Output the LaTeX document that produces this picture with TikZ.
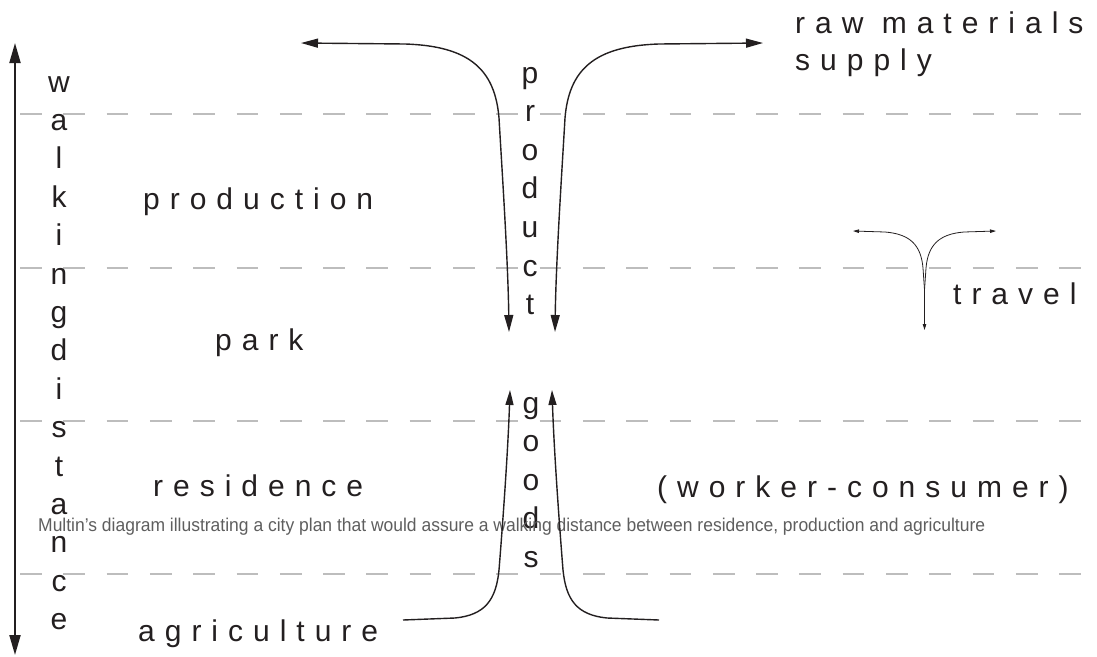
\documentclass[tikz,border=0pt]{standalone}
\usepackage{fontspec}
\usepackage{graphicx}
\setmainfont{Liberation Sans}
\newfontfamily\labfont[LetterSpace=33.3]{Liberation Sans}
\newfontfamily\capfont{Liberation Sans}
\usetikzlibrary{arrows.meta}
\definecolor{labcol}{HTML}{231F20}
\definecolor{guidecol}{HTML}{BDBDBD}
\definecolor{capcol}{HTML}{5E5E5E}
\begin{document}
\begin{tikzpicture}[x=1pt,y=-1pt,
  lab/.style={anchor=base west, inner sep=0pt, text=labcol, font=\labfont\fontsize{30}{32}\selectfont},
  vlet/.style={anchor=base, inner sep=0pt, text=labcol, font=\fontsize{30}{32}\selectfont},
  guide/.style={draw=guidecol, line width=1.2pt, dash pattern=on 21.7pt off 21.6pt},
  flow/.style={draw=labcol, line width=1.4pt},
  thinflow/.style={draw=labcol, line width=0.8pt},
  bigtip/.tip={Triangle[length=17pt,width=9pt]},
  midtip/.tip={Triangle[length=15pt,width=8pt]},
  walktip/.tip={Triangle[length=20pt,width=11pt]},
  smalltip/.tip={Triangle[length=6pt,width=3.5pt]}]
\useasboundingbox (0,0) rectangle (1097,656);

% guide lines
\foreach \yy [count=\k] in {114,268,421,574} {
  \coordinate (gl\k) at (20,\yy);
  \coordinate (gr\k) at (1097,\yy);
  \draw[guide] (gl\k) -- (gr\k);
}

% walking distance arrow
\coordinate (wtop) at (15,43);
\coordinate (wbot) at (15,655);
\draw[draw=labcol, line width=2pt, walktip-walktip] (wtop) -- (wbot);

\foreach \c [count=\i] in {w,a,l,k,i,n,g,d,i,s,t,a,n,c,e}
  \node[vlet] (wd\i) at (59,{92+38.4*(\i-1)}) {\c};

% product letters
\foreach \c [count=\i] in {p,r,o,d,u,c,t}
  \node[vlet] (pr\i) at (530,{83+38.6*(\i-1)}) {\c};

% goods letters
\foreach \c [count=\i] in {g,o,o,d,s}
  \node[vlet] (gd\i) at (531,{413+38.5*(\i-1)}) {\c};

% labels
\node[lab] (raw) at (795,33) {raw materials};
\node[lab] (sup) at (795,70) {supply};
\node[lab] (prod) at (143,209) {production};
\node[lab] (park) at (215,350) {park};
\node[lab] (trav) at (953,304) {travel};
\node[lab] (res) at (153,496) {residence};
\node[lab] (wc) at (657,497) {(worker-consumer)};
\node[lab] (agr) at (138,641) {agriculture};

% caption
\node[anchor=base west, inner sep=0pt, text=capcol, font=\capfont\fontsize{18.5}{20}\selectfont] (cap) at (38,531)
  {\resizebox{947pt}{\height}{Multin’s diagram illustrating a city plan that would assure a walking distance between residence, production and agriculture}};

% product arrows
\coordinate (pla) at (301,43);
\coordinate (plb) at (509,332);
\coordinate (pra) at (763,43);
\coordinate (prb) at (555,332);
\draw[flow, bigtip-bigtip] (pla) -- (405,44) .. controls (470,46) and (495,70) .. (499,118)
   .. controls (502,170) and (508,260) .. (plb);
\draw[flow, bigtip-bigtip] (pra) -- (659,44) .. controls (594,46) and (569,70) .. (565,118)
   .. controls (562,170) and (556,260) .. (prb);

% goods arrows
\coordinate (gla) at (403,620);
\coordinate (glb) at (510,390);
\coordinate (gra) at (659,620);
\coordinate (grb) at (552,390);
\draw[flow, -midtip] (gla) -- (455,618) .. controls (485,615) and (496,600) .. (499,570)
   .. controls (503,520) and (508,450) .. (glb);
\draw[flow, -midtip] (gra) -- (607,618) .. controls (577,615) and (566,600) .. (563,570)
   .. controls (559,520) and (554,450) .. (grb);

% travel symbol
\coordinate (tl) at (853,231);
\coordinate (tr) at (996,231);
\coordinate (tm) at (924.5,290);
\coordinate (tb) at (924.5,330);
\draw[thinflow, smalltip-] (tl) -- (885,232) .. controls (910,234) and (921,245) .. (923,268) -- (tm);
\draw[thinflow, smalltip-] (tr) -- (964,232) .. controls (939,234) and (928,245) .. (926,268) -- (tm);
\draw[thinflow, -smalltip] (tm) -- (tb);
\end{tikzpicture}
\end{document}
